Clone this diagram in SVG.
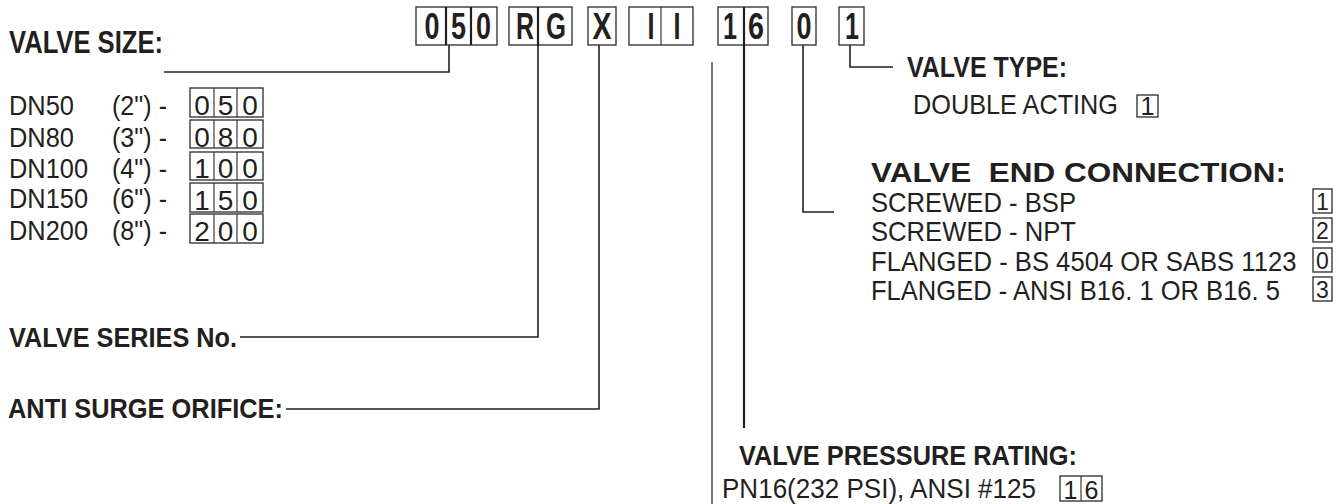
<svg xmlns="http://www.w3.org/2000/svg" width="1339" height="504" viewBox="0 0 1339 504">
<style>
text{font-family:"Liberation Sans",Arial,sans-serif;fill:#231f20}
.code{font-weight:bold;font-size:36px;text-anchor:middle}
.hb{font-weight:bold;font-size:27px}
.r{font-size:28px}
.c{font-size:28px;text-anchor:middle}
.s{font-size:25px;text-anchor:middle}
.t{font-size:23px;text-anchor:middle}
.box{fill:none;stroke:#3a3a3a;stroke-width:1.4}
.dv{stroke:#231f20;stroke-width:2.2}
.dvt{stroke:#3a3a3a;stroke-width:1.2}
.ld{fill:none;stroke:#231f20;stroke-width:1.6}
</style>
<rect width="1339" height="504" fill="#fff"/>
<g id="code">
  <g id="code-size">
    <rect class="box" x="416" y="7" width="81" height="38"/>
    <line class="dv" x1="446" y1="7" x2="446" y2="45"/>
    <line class="dv" x1="471" y1="7" x2="471" y2="45"/>
    <text class="code" x="432" y="39" textLength="15" lengthAdjust="spacingAndGlyphs">0</text>
    <text class="code" x="458.5" y="39" textLength="15" lengthAdjust="spacingAndGlyphs">5</text>
    <text class="code" x="483.5" y="39" textLength="15" lengthAdjust="spacingAndGlyphs">0</text>
  </g>
  <g id="code-series">
    <rect class="box" x="509" y="7" width="63" height="38"/>
    <line class="dv" x1="538" y1="7" x2="538" y2="45"/>
    <text class="code" x="525" y="39" textLength="18" lengthAdjust="spacingAndGlyphs">R</text>
    <text class="code" x="556" y="39" textLength="20" lengthAdjust="spacingAndGlyphs">G</text>
  </g>
  <g id="code-orifice">
    <rect class="box" x="588" y="7" width="28" height="38"/>
    <text class="code" x="602" y="39" textLength="19" lengthAdjust="spacingAndGlyphs">X</text>
  </g>
  <g id="code-ii">
    <rect class="box" x="629" y="7" width="64" height="38"/>
    <line class="dvt" x1="661" y1="7" x2="661" y2="45"/>
    <text class="code" x="651" y="39" textLength="7" lengthAdjust="spacingAndGlyphs">I</text>
    <text class="code" x="677" y="39" textLength="7" lengthAdjust="spacingAndGlyphs">I</text>
  </g>
  <g id="code-pressure">
    <rect class="box" x="718" y="7" width="50" height="38"/>
    <line class="dv" x1="744" y1="7" x2="744" y2="45"/>
    <text class="code" x="730" y="39" textLength="14" lengthAdjust="spacingAndGlyphs">1</text>
    <text class="code" x="756" y="39" textLength="16" lengthAdjust="spacingAndGlyphs">6</text>
  </g>
  <g id="code-end">
    <rect class="box" x="792" y="7" width="24" height="38"/>
    <text class="code" x="804" y="39" textLength="15" lengthAdjust="spacingAndGlyphs">0</text>
  </g>
  <g id="code-type">
    <rect class="box" x="839" y="7" width="25" height="38"/>
    <text class="code" x="852" y="39" textLength="14" lengthAdjust="spacingAndGlyphs">1</text>
  </g>
</g>
<g id="connectors">
  <polyline class="ld" points="449,45 449,72 164,72"/>
  <polyline class="ld" points="538,45 538,337 240,337"/>
  <polyline class="ld" points="599,45 599,409 286,409"/>
  <line class="ld" x1="712" y1="62" x2="712" y2="504" style="stroke-width:1.2"/>
  <line class="ld" x1="744" y1="45" x2="744" y2="428" style="stroke-width:2.2"/>
  <polyline class="ld" points="803,45 803,212 834,212"/>
  <polyline class="ld" points="850,45 850,67 893,67"/>
</g>
<g id="valve-size">
  <text x="9" y="53" font-weight="bold" font-size="31" textLength="154" lengthAdjust="spacingAndGlyphs">VALVE SIZE:</text>
  <text class="r" x="9" y="115" textLength="65" lengthAdjust="spacingAndGlyphs">DN50</text>
  <text class="r" x="9" y="147" textLength="65" lengthAdjust="spacingAndGlyphs">DN80</text>
  <text class="r" x="9" y="178" textLength="79" lengthAdjust="spacingAndGlyphs">DN100</text>
  <text class="r" x="9" y="208" textLength="79" lengthAdjust="spacingAndGlyphs">DN150</text>
  <text class="r" x="9" y="240" textLength="79" lengthAdjust="spacingAndGlyphs">DN200</text>
  <text class="r" x="112" y="115" textLength="55" lengthAdjust="spacingAndGlyphs">(2") -</text>
  <text class="r" x="112" y="147" textLength="55" lengthAdjust="spacingAndGlyphs">(3") -</text>
  <text class="r" x="112" y="178" textLength="55" lengthAdjust="spacingAndGlyphs">(4") -</text>
  <text class="r" x="112" y="208" textLength="55" lengthAdjust="spacingAndGlyphs">(6") -</text>
  <text class="r" x="112" y="240" textLength="55" lengthAdjust="spacingAndGlyphs">(8") -</text>
  <g id="size-boxes">
    <rect class="box" x="190" y="88" width="73" height="29"/>
    <rect class="box" x="190" y="120" width="73" height="28"/>
    <rect class="box" x="190" y="152" width="73" height="28"/>
    <rect class="box" x="190" y="183" width="73" height="29"/>
    <rect class="box" x="190" y="214" width="73" height="29"/>
    <g class="dvt">
      <line x1="214" y1="88" x2="214" y2="117"/><line x1="237" y1="88" x2="237" y2="117"/>
      <line x1="214" y1="120" x2="214" y2="148"/><line x1="237" y1="120" x2="237" y2="148"/>
      <line x1="214" y1="152" x2="214" y2="180"/><line x1="237" y1="152" x2="237" y2="180"/>
      <line x1="214" y1="183" x2="214" y2="212"/><line x1="237" y1="183" x2="237" y2="212"/>
      <line x1="214" y1="214" x2="214" y2="243"/><line x1="237" y1="214" x2="237" y2="243"/>
    </g>
    <text class="c" x="202" y="115">0</text><text class="c" x="225.5" y="115">5</text><text class="c" x="250" y="115">0</text>
    <text class="c" x="202" y="147">0</text><text class="c" x="225.5" y="147">8</text><text class="c" x="250" y="147">0</text>
    <text class="c" x="202" y="178">1</text><text class="c" x="225.5" y="178">0</text><text class="c" x="250" y="178">0</text>
    <text class="c" x="202" y="210">1</text><text class="c" x="225.5" y="210">5</text><text class="c" x="250" y="210">0</text>
    <text class="c" x="202" y="241">2</text><text class="c" x="225.5" y="241">0</text><text class="c" x="250" y="241">0</text>
  </g>
</g>
<g id="valve-series">
  <text class="hb" x="9" y="347" textLength="228" lengthAdjust="spacingAndGlyphs">VALVE SERIES No.</text>
</g>
<g id="anti-surge">
  <text class="hb" x="8" y="418" font-size="28" textLength="275" lengthAdjust="spacingAndGlyphs">ANTI SURGE ORIFICE:</text>
</g>
<g id="valve-type">
  <text x="907" y="77" font-weight="bold" font-size="30" textLength="160" lengthAdjust="spacingAndGlyphs">VALVE TYPE:</text>
  <text class="r" x="913" y="114" textLength="205" lengthAdjust="spacingAndGlyphs">DOUBLE ACTING</text>
  <rect class="box" x="1137" y="95" width="21" height="22"/>
  <text class="s" x="1147.5" y="115">1</text>
</g>
<g id="end-connection">
  <text x="871" y="182" font-weight="bold" font-size="28" xml:space="preserve" textLength="415" lengthAdjust="spacingAndGlyphs">VALVE  END CONNECTION:</text>
  <text class="r" x="871" y="212" textLength="205" lengthAdjust="spacingAndGlyphs">SCREWED - BSP</text>
  <text class="r" x="871" y="241" textLength="205" lengthAdjust="spacingAndGlyphs">SCREWED - NPT</text>
  <text class="r" transform="translate(871,271) scale(0.916,1)" x="0" y="0">FLANGED - BS 4504 OR SABS 1123</text>
  <text class="r" transform="translate(871,300) scale(0.913,1)" x="0" y="0">FLANGED - ANSI B16. 1 OR B16. 5</text>
  <rect class="box" x="1313" y="189" width="19" height="24"/>
  <rect class="box" x="1313" y="218" width="19" height="24"/>
  <rect class="box" x="1313" y="248" width="19" height="24"/>
  <rect class="box" x="1313" y="277" width="19" height="24"/>
  <text class="t" x="1322.5" y="210">1</text>
  <text class="t" x="1322.5" y="239">2</text>
  <text class="t" x="1322.5" y="269">0</text>
  <text class="t" x="1322.5" y="298">3</text>
</g>
<g id="pressure-rating">
  <text class="hb" x="739" y="465" textLength="338" lengthAdjust="spacingAndGlyphs">VALVE PRESSURE RATING:</text>
  <text class="r" x="722" y="498" textLength="314" lengthAdjust="spacingAndGlyphs">PN16(232 PSI), ANSI #125</text>
  <rect class="box" x="1060" y="476" width="42" height="25"/>
  <line class="dvt" x1="1081" y1="476" x2="1081" y2="501"/>
  <text class="s" x="1070.5" y="499">1</text>
  <text class="s" x="1091.5" y="499">6</text>
</g>
</svg>
